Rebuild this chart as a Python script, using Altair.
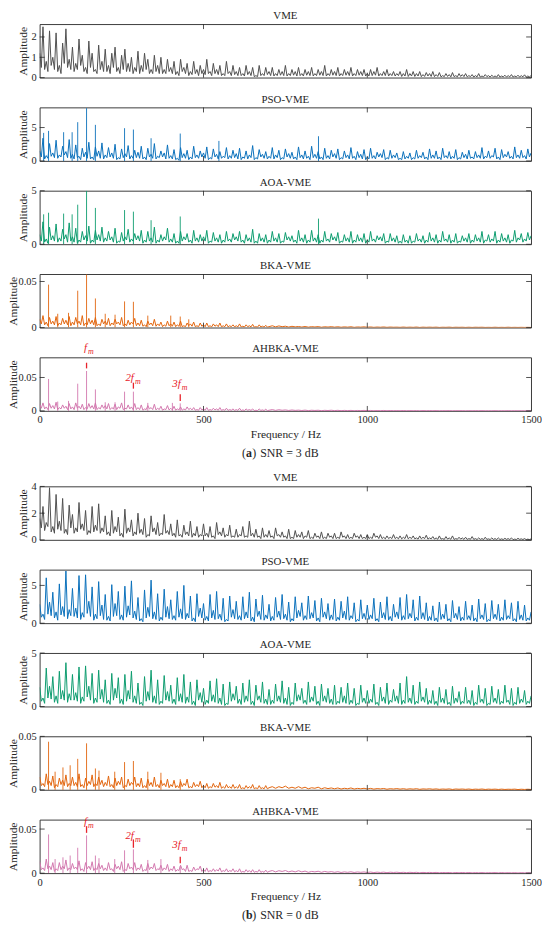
import altair as alt
import pandas as pd

# ---------------- data ----------------
FREQ = list(range(0, 1501, 10))       # local maxima, every 10 Hz
HALF = 5                              # local minima sit half way, at 5, 15, 25 ... Hz

# (a) SNR = 3 dB --------------------------------------------------------
A_VME = [
    1.2, 2.5, 0.8, 2.3, 1.0, 2.2, 0.6, 1.7, 2.4, 0.9,
    1.5, 0.7, 1.9, 1.1, 0.5, 1.8, 1.2, 0.4, 1.6, 0.8,
    1.4, 0.6, 1.2, 1.5, 0.5, 1.1, 1.4, 0.7, 1.0, 0.5,
    1.3, 0.6, 1.2, 0.9, 0.4, 1.1, 0.6, 1.0, 0.4, 0.9,
    0.5, 0.8, 0.3, 0.9, 0.5, 0.7, 0.3, 0.8, 0.4, 0.6,
    0.4, 0.9, 0.3, 0.7, 0.4, 0.6, 0.2, 0.8, 0.3, 0.6,
    0.3, 0.5, 0.2, 0.6, 0.3, 0.5, 0.1, 0.6, 0.2, 0.5,
    0.3, 0.5, 0.2, 0.4, 0.3, 0.6, 0.2, 0.4, 0.3, 0.5,
    0.2, 0.4, 0.3, 0.5, 0.2, 0.4, 0.3, 0.6, 0.2, 0.4,
    0.3, 0.5, 0.2, 0.4, 0.3, 0.5, 0.2, 0.4, 0.3, 0.4,
    0.2, 0.4, 0.3, 0.5, 0.2, 0.3, 0.4, 0.2, 0.3, 0.2,
    0.3, 0.2, 0.4, 0.2, 0.3, 0.2, 0.3, 0.15, 0.25, 0.2,
    0.3, 0.15, 0.25, 0.1, 0.2, 0.15, 0.25, 0.1, 0.2, 0.15,
    0.2, 0.1, 0.15, 0.1, 0.2, 0.08, 0.15, 0.1, 0.12, 0.08,
    0.15, 0.08, 0.12, 0.1, 0.15, 0.08, 0.12, 0.1, 0.14, 0.08,
    0.1]
A_VME_LOW = [
    0.5, 0.4, 0.3, 0.6, 0.4, 0.3, 0.2, 0.7, 0.5, 0.4,
    0.3, 0.4, 0.6, 0.3, 0.2, 0.5, 0.3, 0.2, 0.4, 0.3,
    0.3, 0.2, 0.5, 0.3, 0.2, 0.4, 0.3, 0.3, 0.2, 0.3,
    0.2, 0.3, 0.4, 0.2, 0.2, 0.3, 0.2, 0.2, 0.2, 0.3,
    0.2, 0.15, 0.1, 0.3, 0.2, 0.1, 0.15, 0.2, 0.1, 0.2,
    0.15, 0.2, 0.1, 0.2, 0.15, 0.1, 0.1, 0.2, 0.1, 0.15,
    0.1, 0.1, 0.08, 0.15, 0.1, 0.05, 0.05, 0.1, 0.1, 0.15,
    0.1, 0.08, 0.1, 0.12, 0.1, 0.08, 0.1, 0.12, 0.08, 0.1,
    0.08, 0.12, 0.1, 0.08, 0.1, 0.12, 0.1, 0.08, 0.1, 0.12,
    0.1, 0.08, 0.1, 0.12, 0.1, 0.08, 0.1, 0.12, 0.1, 0.08,
    0.08, 0.1, 0.12, 0.08, 0.1, 0.1, 0.08, 0.1, 0.08, 0.1,
    0.06, 0.08, 0.06, 0.08, 0.06, 0.08, 0.05, 0.06, 0.08, 0.06,
    0.05, 0.06, 0.04, 0.05, 0.06, 0.04, 0.05, 0.04, 0.06, 0.05,
    0.04, 0.05, 0.03, 0.04, 0.03, 0.04, 0.05, 0.03, 0.04, 0.03,
    0.03, 0.04, 0.03, 0.04, 0.03, 0.04, 0.03, 0.04, 0.03, 0.04]

A_PSO = [
    1.5, 3.4, 0.8, 2.6, 1.2, 3.1, 0.9, 2.2, 1.4, 3.2,
    1.0, 2.4, 0.7, 1.9, 1.3, 2.8, 0.6, 2.1, 1.5, 2.7,
    0.9, 2.0, 1.2, 2.5, 0.5, 1.8, 1.1, 2.3, 0.8, 1.6,
    1.3, 2.2, 0.6, 1.9, 1.0, 2.6, 0.7, 1.5, 1.2, 2.4,
    0.8, 1.7, 0.4, 2.0, 1.1, 1.6, 0.6, 2.2, 0.9, 1.5,
    1.2, 2.1, 0.5, 1.8, 1.0, 1.4, 0.7, 2.0, 0.8, 1.6,
    1.1, 1.9, 0.6, 1.5, 0.9, 2.3, 0.5, 1.7, 1.0, 1.4,
    0.7, 2.0, 0.9, 1.6, 0.5, 1.8, 1.1, 1.3, 0.6, 2.1,
    0.9, 1.5, 0.7, 2.2, 1.0, 1.4, 0.6, 1.9, 0.8, 1.6,
    1.1, 1.8, 0.5, 1.5, 0.9, 2.0, 0.7, 1.4, 1.0, 1.7,
    0.6, 1.9, 0.8, 1.3, 1.1, 1.7, 0.5, 1.6, 0.9, 1.2,
    0.4, 1.4, 0.7, 1.2, 0.5, 1.6, 0.8, 1.3, 0.6, 1.8,
    0.9, 1.5, 0.6, 1.9, 0.8, 1.4, 0.7, 1.7, 0.5, 1.3,
    1.0, 1.6, 0.6, 1.4, 0.9, 2.0, 0.7, 1.5, 0.8, 1.9,
    0.6, 1.7, 1.0, 1.4, 0.7, 2.1, 0.9, 1.6, 0.8, 1.8,
    1.2]
A_PSO_LOW = [
    0.6, 0.3, 0.4, 0.7, 0.5, 0.4, 0.6, 0.9, 0.5, 0.4,
    0.3, 0.5, 0.2, 0.6, 0.4, 0.3, 0.2, 0.7, 0.4, 0.3,
    0.5, 0.6, 0.4, 0.2, 0.3, 0.5, 0.6, 0.3, 0.4, 0.5,
    0.4, 0.3, 0.2, 0.6, 0.4, 0.3, 0.5, 0.6, 0.3, 0.4,
    0.3, 0.2, 0.1, 0.5, 0.4, 0.2, 0.3, 0.5, 0.4, 0.6,
    0.4, 0.2, 0.3, 0.6, 0.3, 0.4, 0.5, 0.3, 0.4, 0.5,
    0.3, 0.2, 0.4, 0.3, 0.5, 0.2, 0.3, 0.6, 0.4, 0.3,
    0.4, 0.3, 0.5, 0.2, 0.3, 0.6, 0.4, 0.3, 0.2, 0.5,
    0.3, 0.4, 0.2, 0.5, 0.4, 0.3, 0.2, 0.4, 0.3, 0.6,
    0.4, 0.2, 0.3, 0.5, 0.3, 0.4, 0.2, 0.5, 0.3, 0.2,
    0.3, 0.4, 0.3, 0.6, 0.5, 0.2, 0.3, 0.4, 0.5, 0.2,
    0.2, 0.3, 0.4, 0.2, 0.3, 0.4, 0.5, 0.3, 0.2, 0.4,
    0.4, 0.3, 0.2, 0.5, 0.4, 0.3, 0.4, 0.2, 0.3, 0.5,
    0.3, 0.4, 0.3, 0.5, 0.4, 0.3, 0.5, 0.4, 0.6, 0.3,
    0.2, 0.5, 0.6, 0.4, 0.3, 0.5, 0.4, 0.5, 0.3, 0.6]
A_PSO_SPK_F = [12, 27, 73, 99, 116, 143, 170, 259, 286, 340, 429, 547, 851]
A_PSO_SPK_A = [4.2, 4.5, 4.3, 4.3, 5.8, 7.9, 5.4, 4.9, 4.7, 3.4, 4.1, 3.0, 3.7]

A_AOA = [
    0.9, 2.1, 0.5, 1.6, 0.8, 1.9, 0.6, 1.4, 0.9, 2.0,
    0.7, 1.5, 0.4, 1.2, 0.8, 1.7, 0.4, 1.3, 0.9, 1.6,
    0.6, 1.2, 0.7, 1.5, 0.3, 1.1, 0.7, 1.4, 0.5, 1.0,
    0.8, 1.3, 0.4, 1.2, 0.6, 1.6, 0.4, 0.9, 0.7, 1.5,
    0.5, 1.0, 0.3, 1.2, 0.7, 1.0, 0.4, 1.3, 0.6, 0.9,
    0.7, 1.3, 0.3, 1.1, 0.6, 0.9, 0.4, 1.2, 0.5, 1.0,
    0.7, 1.2, 0.4, 0.9, 0.6, 1.4, 0.3, 1.0, 0.6, 0.9,
    0.4, 1.2, 0.6, 1.0, 0.3, 1.1, 0.7, 0.8, 0.4, 1.3,
    0.6, 0.9, 0.4, 1.3, 0.6, 0.9, 0.4, 1.2, 0.5, 1.0,
    0.7, 1.1, 0.3, 0.9, 0.6, 1.2, 0.4, 0.9, 0.6, 1.0,
    0.4, 1.2, 0.5, 0.8, 0.7, 1.0, 0.3, 1.0, 0.6, 0.8,
    0.3, 0.9, 0.4, 0.8, 0.3, 1.0, 0.5, 0.8, 0.4, 1.1,
    0.6, 0.9, 0.4, 1.2, 0.5, 0.9, 0.4, 1.0, 0.3, 0.8,
    0.6, 1.0, 0.4, 0.9, 0.6, 1.2, 0.4, 0.9, 0.5, 1.2,
    0.4, 1.0, 0.6, 0.9, 0.4, 1.3, 0.6, 1.0, 0.5, 1.1,
    0.8]
A_AOA_LOW = [
    0.3, 0.2, 0.1, 0.4, 0.3, 0.2, 0.3, 0.5, 0.2, 0.3,
    0.2, 0.1, 0.2, 0.4, 0.3, 0.1, 0.2, 0.4, 0.3, 0.2,
    0.3, 0.4, 0.2, 0.1, 0.2, 0.3, 0.4, 0.2, 0.3, 0.4,
    0.3, 0.1, 0.2, 0.3, 0.2, 0.1, 0.2, 0.3, 0.4, 0.2,
    0.2, 0.1, 0.1, 0.3, 0.4, 0.2, 0.1, 0.3, 0.2, 0.3,
    0.3, 0.1, 0.2, 0.3, 0.2, 0.1, 0.2, 0.3, 0.2, 0.4,
    0.3, 0.2, 0.1, 0.3, 0.2, 0.1, 0.1, 0.3, 0.2, 0.1,
    0.2, 0.3, 0.2, 0.1, 0.2, 0.4, 0.3, 0.2, 0.1, 0.3,
    0.2, 0.1, 0.2, 0.3, 0.2, 0.1, 0.2, 0.3, 0.2, 0.4,
    0.3, 0.1, 0.2, 0.3, 0.2, 0.1, 0.2, 0.3, 0.2, 0.1,
    0.2, 0.3, 0.2, 0.4, 0.3, 0.1, 0.2, 0.3, 0.2, 0.1,
    0.1, 0.2, 0.1, 0.1, 0.2, 0.3, 0.2, 0.1, 0.2, 0.3,
    0.2, 0.1, 0.2, 0.3, 0.2, 0.1, 0.2, 0.1, 0.2, 0.3,
    0.2, 0.1, 0.2, 0.3, 0.2, 0.1, 0.3, 0.2, 0.3, 0.1,
    0.2, 0.3, 0.2, 0.1, 0.3, 0.2, 0.4, 0.2, 0.3, 0.4]
A_AOA_SPK_F = [12, 27, 73, 99, 116, 143, 170, 259, 286, 340, 429, 851]
A_AOA_SPK_A = [2.8, 2.95, 2.87, 2.8, 3.7, 5.0, 3.4, 3.2, 3.05, 2.25, 2.6, 2.4]

A_BKA = [
    .009, .013, .006, .011, .007, .012, .005, .010, .008, .012,
    .006, .011, .007, .013, .005, .010, .008, .011, .004, .009,
    .007, .010, .005, .009, .006, .011, .004, .008, .006, .010,
    .005, .008, .003, .007, .005, .009, .004, .006, .003, .007,
    .004, .006, .003, .007, .002, .005, .004, .006, .002, .005,
    .003, .005, .002, .004, .003, .005, .002, .004, .002, .003,
    .002, .004, .0015, .003, .002, .0035, .001, .003, .0015, .0025,
    .001, .002, .0008, .0018, .001, .0015, .0006, .0014, .0008, .0012,
    .0006, .0012, .0005, .001, .0007, .0011, .0004, .0009, .0006, .001,
    .0005, .0009, .0004, .0008, .0005, .0009, .0003, .0007, .0005, .0008,
    .0004, .0007, .0003, .0006, .0004, .0007, .0003, .0006, .0004, .0005,
    .0003, .0006, .0003, .0005, .0003, .0006, .0002, .0005, .0003, .0005,
    .0003, .0005, .0002, .0004, .0003, .0005, .0002, .0004, .0003, .0004,
    .0002, .0004, .0002, .0004, .0003, .0004, .0002, .0003, .0002, .0004,
    .0002, .0003, .0002, .0004, .0002, .0003, .0002, .0003, .0002, .0003,
    .0002]
A_BKA_LOW = [
    .004, .003, .002, .004, .003, .002, .003, .004, .003, .002,
    .003, .004, .003, .002, .003, .004, .003, .002, .002, .004,
    .003, .002, .003, .004, .003, .002, .002, .003, .004, .002,
    .002, .0015, .001, .003, .002, .0015, .002, .001, .0015, .002,
    .0015, .001, .0015, .001, .001, .002, .0015, .001, .001, .0015,
    .001, .001, .0008, .0015, .001, .0008, .001, .0008, .001, .0008,
    .0008, .0007, .0006, .001, .0008, .0005, .0005, .0007, .0006, .0005]
A_BKA_SPK_F = [27, 55, 88, 116, 143, 170, 200, 230, 259, 286, 330, 400, 429, 455]
A_BKA_SPK_A = [.0466, .015, .016, .040, .0575, .0316, .015, .014, .0284, .028, .013, .013, .012, .009]

A_AHB = [
    .010, .012, .006, .011, .008, .013, .005, .009, .007, .011,
    .006, .012, .007, .010, .005, .011, .008, .012, .005, .009,
    .008, .011, .005, .010, .006, .012, .004, .009, .006, .011,
    .005, .009, .003, .008, .005, .010, .004, .007, .003, .008,
    .004, .007, .003, .006, .003, .006, .004, .005, .002, .005,
    .003, .005, .002, .004, .003, .005, .002, .004, .002, .003,
    .002, .004, .0015, .003, .002, .003, .001, .003, .0015, .0025,
    .001, .002, .0008, .0018, .001, .0015, .0007, .0014, .0008, .0012,
    .0006, .0012, .0005, .001, .0007, .001, .0004, .0009, .0006, .001,
    .0005, .0009, .0004, .0008, .0005, .0008, .0003, .0007, .0005, .0008,
    .0004, .0007, .0003, .0006, .0004, .0007, .0003, .0006, .0004, .0005,
    .0003, .0006, .0003, .0005, .0003, .0005, .0002, .0005, .0003, .0005,
    .0003, .0005, .0002, .0004, .0003, .0005, .0002, .0004, .0003, .0004,
    .0002, .0004, .0002, .0004, .0003, .0004, .0002, .0003, .0002, .0004,
    .0002, .0003, .0002, .0004, .0002, .0003, .0002, .0003, .0002, .0003,
    .0002]
A_AHB_LOW = [
    .004, .003, .002, .004, .003, .002, .003, .004, .002, .003,
    .002, .004, .003, .002, .003, .004, .003, .002, .003, .004,
    .003, .002, .003, .002, .004, .002, .003, .003, .002, .002,
    .002, .001, .002, .003, .002, .0015, .002, .001, .002, .0015,
    .0015, .001, .0015, .001, .0015, .002, .0015, .001, .001, .0015,
    .001, .0008, .001, .0015, .001, .0008, .001, .0008, .001, .0008,
    .0008, .0006, .0007, .001, .0008, .0005, .0005, .0008, .0006, .0005]
A_AHB_SPK_F = [27, 55, 88, 116, 143, 170, 200, 230, 259, 286, 330, 405, 429]
A_AHB_SPK_A = [.0478, .014, .015, .0407, .0597, .0322, .013, .013, .0288, .0288, .012, .012, .0113]

# (b) SNR = 0 dB --------------------------------------------------------
B_VME = [
    1.6, 2.5, 1.3, 3.9, 1.0, 3.4, 1.4, 3.1, 0.8, 2.6,
    1.9, 0.9, 2.8, 1.2, 2.2, 0.7, 2.5, 1.1, 2.7, 0.9,
    1.8, 0.6, 2.2, 1.0, 1.7, 0.5, 2.3, 0.9, 1.5, 0.6,
    2.0, 0.8, 1.6, 0.4, 1.8, 0.9, 1.3, 0.5, 1.9, 0.7,
    1.2, 0.5, 1.5, 0.4, 1.1, 0.6, 1.4, 0.5, 1.0, 0.4,
    1.2, 0.5, 1.0, 0.3, 1.3, 0.6, 0.9, 0.4, 1.1, 0.3,
    0.8, 0.4, 1.0, 0.3, 1.4, 0.5, 0.8, 0.3, 0.9, 0.4,
    0.7, 0.3, 0.9, 0.4, 0.6, 0.3, 0.8, 0.2, 0.7, 0.4,
    0.6, 0.3, 0.7, 0.2, 0.5, 0.3, 0.6, 0.2, 0.5, 0.3,
    0.5, 0.2, 0.6, 0.3, 0.4, 0.2, 0.5, 0.3, 0.4, 0.2,
    0.4, 0.2, 0.5, 0.3, 0.4, 0.2, 0.3, 0.2, 0.4, 0.2,
    0.3, 0.2, 0.4, 0.2, 0.3, 0.15, 0.3, 0.2, 0.35, 0.15,
    0.25, 0.15, 0.3, 0.1, 0.25, 0.15, 0.3, 0.1, 0.2, 0.15,
    0.2, 0.1, 0.25, 0.1, 0.15, 0.1, 0.2, 0.08, 0.15, 0.1,
    0.15, 0.08, 0.12, 0.1, 0.15, 0.06, 0.12, 0.08, 0.1, 0.06,
    0.08]
B_VME_LOW = [
    0.9, 0.7, 1.0, 0.6, 0.5, 0.8, 0.7, 0.5, 0.4, 0.9,
    0.5, 0.6, 0.8, 0.7, 0.4, 0.5, 0.6, 0.7, 0.5, 0.6,
    0.4, 0.3, 0.5, 0.6, 0.3, 0.2, 0.5, 0.6, 0.3, 0.4,
    0.5, 0.4, 0.2, 0.3, 0.6, 0.4, 0.3, 0.4, 0.5, 0.4,
    0.3, 0.2, 0.3, 0.2, 0.4, 0.3, 0.2, 0.3, 0.2, 0.3,
    0.3, 0.2, 0.2, 0.1, 0.4, 0.3, 0.2, 0.3, 0.2, 0.2,
    0.2, 0.3, 0.2, 0.2, 0.3, 0.2, 0.2, 0.1, 0.2, 0.2,
    0.2, 0.1, 0.3, 0.2, 0.2, 0.1, 0.1, 0.1, 0.2, 0.2,
    0.1, 0.2, 0.1, 0.1, 0.2, 0.1, 0.1, 0.1, 0.2, 0.1,
    0.1, 0.1, 0.2, 0.1, 0.1, 0.1, 0.2, 0.1, 0.1, 0.1,
    0.1, 0.1, 0.2, 0.1, 0.1, 0.08, 0.1, 0.1, 0.1, 0.08,
    0.08, 0.1, 0.08, 0.1, 0.08, 0.06, 0.08, 0.1, 0.06, 0.08,
    0.06, 0.05, 0.06, 0.04, 0.06, 0.05, 0.04, 0.05, 0.06, 0.04,
    0.04, 0.05, 0.04, 0.03, 0.04, 0.03, 0.04, 0.03, 0.04, 0.03,
    0.03, 0.03, 0.04, 0.03, 0.02, 0.03, 0.04, 0.03, 0.02, 0.02]

B_PSO = [
    2.5, 1.2, 6.0, 2.8, 4.1, 1.5, 5.2, 2.2, 6.9, 1.8,
    4.6, 2.0, 6.3, 1.4, 6.4, 2.9, 4.8, 1.2, 5.5, 2.4,
    3.8, 0.9, 5.1, 2.6, 4.2, 1.1, 4.9, 2.3, 5.6, 1.6,
    3.4, 0.6, 4.4, 2.1, 5.7, 1.5, 3.9, 0.8, 4.5, 2.2,
    3.1, 1.0, 4.2, 1.9, 5.0, 1.3, 3.6, 0.7, 3.9, 2.0,
    2.6, 0.9, 3.8, 1.7, 4.2, 1.2, 3.3, 0.5, 3.6, 1.8,
    2.9, 1.0, 3.5, 1.5, 4.1, 0.8, 3.2, 1.6, 3.7, 1.1,
    2.5, 0.9, 3.4, 1.6, 3.8, 1.2, 2.8, 0.6, 3.5, 1.7,
    2.7, 1.0, 3.6, 1.4, 3.0, 0.7, 3.3, 1.5, 2.6, 1.1,
    3.2, 0.8, 2.9, 1.6, 3.5, 1.0, 2.7, 0.5, 3.1, 1.3,
    2.4, 1.1, 3.3, 0.6, 2.8, 1.4, 3.5, 0.9, 2.5, 1.5,
    3.4, 1.0, 3.8, 1.3, 3.1, 0.8, 3.6, 1.4, 2.7, 0.9,
    2.3, 0.7, 2.8, 1.2, 2.5, 0.6, 3.0, 1.3, 2.2, 0.8,
    2.9, 1.0, 2.4, 0.7, 3.2, 1.1, 2.6, 0.5, 3.0, 1.2,
    2.5, 0.8, 3.1, 1.0, 2.7, 0.6, 2.9, 1.1, 2.4, 0.7,
    1.5]
B_PSO_LOW = [
    0.8, 0.5, 1.2, 1.0, 0.7, 0.4, 1.1, 0.9, 0.6, 1.0,
    0.9, 0.7, 0.5, 0.8, 1.3, 0.9, 0.4, 0.6, 1.0, 0.5,
    0.4, 0.3, 0.9, 1.0, 0.5, 0.4, 0.8, 1.1, 0.7, 0.5,
    0.3, 0.2, 0.7, 0.9, 0.6, 0.5, 0.3, 0.4, 0.8, 0.6,
    0.5, 0.4, 0.8, 0.6, 0.5, 0.7, 0.3, 0.2, 0.9, 0.7,
    0.4, 0.3, 0.7, 0.5, 0.6, 0.4, 0.2, 0.3, 0.8, 0.6,
    0.5, 0.4, 0.6, 0.7, 0.3, 0.2, 0.9, 0.5, 0.4, 0.6,
    0.3, 0.4, 0.8, 0.5, 0.6, 0.4, 0.2, 0.3, 0.7, 0.9,
    0.4, 0.5, 0.6, 0.7, 0.3, 0.2, 0.8, 0.6, 0.4, 0.5,
    0.3, 0.4, 0.7, 0.5, 0.4, 0.6, 0.2, 0.3, 0.6, 0.5,
    0.5, 0.6, 0.3, 0.2, 0.7, 0.5, 0.4, 0.3, 0.8, 0.6,
    0.4, 0.5, 0.6, 0.7, 0.3, 0.4, 0.6, 0.5, 0.3, 0.4,
    0.3, 0.2, 0.5, 0.6, 0.3, 0.2, 0.7, 0.5, 0.3, 0.4,
    0.5, 0.4, 0.3, 0.2, 0.6, 0.5, 0.2, 0.3, 0.6, 0.5,
    0.3, 0.4, 0.5, 0.6, 0.3, 0.2, 0.5, 0.4, 0.3, 0.4]

B_AOA = [
    1.8, 0.8, 3.6, 1.9, 2.8, 1.0, 3.3, 1.5, 4.1, 1.2,
    3.0, 1.3, 3.7, 0.9, 3.8, 1.9, 3.1, 0.8, 3.4, 1.6,
    2.5, 0.6, 3.1, 1.7, 2.7, 0.7, 3.0, 1.5, 3.3, 1.0,
    2.2, 0.4, 2.8, 1.4, 3.4, 1.0, 2.5, 0.5, 2.9, 1.4,
    2.0, 0.7, 2.7, 1.2, 3.0, 0.9, 2.3, 0.5, 2.5, 1.3,
    1.7, 0.6, 2.4, 1.1, 2.6, 0.8, 2.1, 0.3, 2.3, 1.2,
    1.9, 0.7, 2.2, 1.0, 2.5, 0.5, 2.0, 1.0, 2.3, 0.7,
    1.6, 0.6, 2.1, 1.0, 2.4, 0.8, 1.8, 0.4, 2.2, 1.1,
    1.7, 0.6, 2.3, 0.9, 1.9, 0.5, 2.1, 1.0, 1.7, 0.7,
    2.0, 0.5, 1.8, 1.0, 2.2, 0.6, 1.7, 0.3, 2.0, 0.8,
    1.5, 0.7, 2.1, 0.4, 1.8, 0.9, 2.2, 0.6, 1.6, 1.0,
    2.2, 0.6, 2.8, 0.8, 2.0, 0.5, 2.3, 0.9, 1.7, 0.6,
    1.5, 0.5, 1.8, 0.8, 1.6, 0.4, 1.9, 0.8, 1.4, 0.5,
    1.8, 0.6, 1.5, 0.4, 2.0, 0.7, 1.7, 0.3, 1.9, 0.8,
    1.6, 0.5, 2.0, 0.6, 1.7, 0.4, 1.8, 0.7, 1.5, 0.5,
    1.0]
B_AOA_LOW = [
    0.5, 0.3, 0.8, 0.7, 0.4, 0.3, 0.7, 0.6, 0.4, 0.6,
    0.6, 0.5, 0.3, 0.5, 0.9, 0.6, 0.3, 0.4, 0.7, 0.4,
    0.3, 0.2, 0.6, 0.8, 0.3, 0.2, 0.5, 0.7, 0.4, 0.3,
    0.2, 0.1, 0.5, 0.6, 0.4, 0.3, 0.2, 0.3, 0.6, 0.5,
    0.3, 0.2, 0.5, 0.4, 0.3, 0.4, 0.2, 0.1, 0.6, 0.4,
    0.2, 0.3, 0.5, 0.4, 0.3, 0.2, 0.1, 0.2, 0.5, 0.6,
    0.3, 0.2, 0.4, 0.5, 0.2, 0.1, 0.6, 0.4, 0.3, 0.2,
    0.2, 0.3, 0.5, 0.4, 0.3, 0.2, 0.1, 0.2, 0.5, 0.6,
    0.3, 0.2, 0.4, 0.5, 0.2, 0.1, 0.5, 0.4, 0.3, 0.2,
    0.2, 0.3, 0.4, 0.3, 0.2, 0.3, 0.1, 0.2, 0.4, 0.3,
    0.3, 0.4, 0.2, 0.1, 0.5, 0.3, 0.2, 0.4, 0.5, 0.3,
    0.2, 0.3, 0.4, 0.3, 0.2, 0.3, 0.5, 0.4, 0.2, 0.3,
    0.2, 0.1, 0.4, 0.3, 0.2, 0.1, 0.3, 0.4, 0.2, 0.3,
    0.3, 0.2, 0.1, 0.2, 0.4, 0.3, 0.1, 0.2, 0.4, 0.3,
    0.2, 0.3, 0.4, 0.2, 0.1, 0.2, 0.3, 0.4, 0.2, 0.3]

B_BKA = [
    .012, .006, .015, .008, .013, .005, .011, .009, .014, .006,
    .012, .007, .015, .005, .011, .008, .014, .006, .012, .009,
    .007, .013, .005, .011, .008, .012, .004, .010, .007, .012,
    .006, .011, .004, .010, .007, .012, .005, .009, .006, .010,
    .005, .009, .004, .008, .006, .010, .003, .007, .005, .008,
    .004, .006, .003, .006, .004, .007, .003, .005, .003, .005,
    .003, .005, .002, .004, .003, .005, .002, .004, .002, .004,
    .002, .003, .0015, .003, .002, .0035, .0015, .0025, .0015, .003,
    .0015, .0025, .001, .002, .0015, .0025, .001, .002, .0012, .0018,
    .001, .0018, .0008, .0015, .001, .0018, .0008, .0014, .001, .0015,
    .0008, .0014, .0007, .0012, .0009, .0013, .0006, .0011, .0008, .0012,
    .0007, .0011, .0006, .001, .0007, .0011, .0005, .0009, .0007, .001,
    .0006, .0009, .0005, .0008, .0006, .0009, .0004, .0008, .0006, .0008,
    .0005, .0008, .0004, .0007, .0005, .0008, .0004, .0007, .0005, .0007,
    .0004, .0007, .0004, .0006, .0005, .0007, .0003, .0006, .0004, .0006,
    .0004]
B_BKA_LOW = [
    .004, .003, .005, .004, .002, .003, .005, .004, .003, .004,
    .004, .003, .003, .002, .004, .005, .003, .004, .005, .003,
    .004, .003, .002, .004, .005, .002, .003, .004, .005, .003,
    .003, .002, .002, .004, .003, .003, .002, .004, .003, .002,
    .003, .002, .002, .003, .004, .002, .002, .003, .003, .002,
    .002, .0015, .002, .0025, .002, .0015, .0015, .002, .0015, .0015,
    .0015, .001, .001, .0015, .0015, .001, .001, .0012, .001, .001]
B_BKA_SPK_F = [27, 47, 71, 93, 116, 143, 170, 181, 229, 259, 286, 330, 370, 429]
B_BKA_SPK_A = [.045, .017, .021, .023, .029, .0435, .020, .018, .017, .026, .027, .017, .016, .010]

B_AHB = [
    .013, .006, .016, .008, .012, .005, .012, .008, .015, .006,
    .011, .007, .014, .005, .012, .008, .013, .006, .011, .009,
    .006, .012, .005, .010, .008, .013, .004, .011, .007, .012,
    .006, .010, .004, .011, .007, .011, .005, .009, .006, .010,
    .005, .008, .004, .009, .005, .009, .003, .007, .005, .008,
    .004, .006, .003, .005, .004, .006, .003, .005, .003, .005,
    .003, .005, .002, .004, .003, .004, .002, .004, .002, .0035,
    .002, .003, .0015, .0028, .002, .003, .0015, .0025, .0015, .0028,
    .0015, .0024, .001, .002, .0015, .0022, .001, .002, .0012, .0018,
    .001, .0017, .0008, .0015, .001, .0016, .0008, .0014, .001, .0014,
    .0008, .0013, .0007, .0012, .0008, .0012, .0006, .0011, .0008, .0011,
    .0007, .001, .0006, .001, .0007, .001, .0005, .0009, .0006, .0009,
    .0006, .0009, .0005, .0008, .0006, .0008, .0004, .0008, .0005, .0008,
    .0005, .0008, .0004, .0007, .0005, .0007, .0004, .0006, .0005, .0007,
    .0004, .0007, .0004, .0006, .0004, .0006, .0003, .0006, .0004, .0005,
    .0004]
B_AHB_LOW = [
    .004, .003, .005, .004, .002, .003, .004, .005, .003, .004,
    .005, .004, .003, .002, .005, .004, .003, .004, .005, .003,
    .003, .004, .002, .005, .004, .002, .003, .005, .004, .003,
    .004, .002, .003, .004, .005, .003, .004, .003, .004, .002,
    .003, .002, .003, .004, .002, .002, .002, .003, .004, .002,
    .002, .0015, .002, .002, .0025, .0015, .002, .0015, .002, .0015,
    .0015, .001, .0012, .0015, .001, .001, .0012, .001, .001, .001]
B_AHB_SPK_F = [27, 47, 71, 93, 116, 143, 170, 181, 229, 259, 286, 330, 370, 429]
B_AHB_SPK_A = [.0439, .016, .018, .020, .0288, .0428, .020, .017, .016, .0259, .027, .015, .016, .008]

# fault-frequency markers (f_m, 2f_m, 3f_m)
ANN_F = [143, 286, 429]
ANN_MAIN = ["f", "2f", "3f"]
ANN_SUB = ["m", "m", "m"]
A_ANN_TY = [0.0945, 0.0492, 0.0397]
A_ANN_LO = [0.0636, 0.0333, 0.0149]
A_ANN_HI = [0.0721, 0.0422, 0.0248]
B_ANN_TY = [0.0578, 0.0417, 0.0321]
B_ANN_LO = [0.0457, 0.0288, 0.0113]
B_ANN_HI = [0.0533, 0.0383, 0.0187]

X_TICKS = [0, 500, 1000, 1500]
X_INNER_TICKS = [500, 1000]

# ---------------- style ----------------
W, H = 496, 54
GAP = 30.1
SP_H = 15.2
CAP_Y = 12.5
FONT = "Liberation Serif"
INK = "#262626"
GRAY = "#505050"
BLUE = "#0a70bb"
GREEN = "#0c9c6e"
ORANGE = "#e2650e"
PINK = "#d277ae"
RED = "#e8232b"


def series(peaks, lows):
    f, a = [], []
    for i, v in enumerate(peaks):
        f.append(FREQ[i])
        a.append(v)
        if i < len(lows):
            f.append(FREQ[i] + HALF)
            a.append(lows[i])
    return pd.DataFrame({"f": f, "a": a})


def panel(title, peaks, lows, color, ymax, yticks, wide, spikes=None, bottom=False, ann=None):
    xs = alt.Scale(domain=[0, 1500], nice=False, zero=False)
    ys = alt.Scale(domain=[0, ymax], nice=False, zero=False)
    if bottom:
        xaxis = alt.Axis(values=X_TICKS, format="d", ticks=False, tickSize=0, domain=False,
                         grid=False, labelFlush=False, labelOverlap=False, labelPadding=4,
                         labelFontSize=10.5, labelColor=INK, labelFont=FONT,
                         title="Frequency / Hz", titleFont=FONT, titleFontSize=11.5,
                         titleFontWeight="normal", titleColor=INK, titleBaseline="middle",
                         titleY=23.7)
    else:
        xaxis = None
    yaxis = alt.Axis(values=yticks, format="~g", ticks=False, tickSize=0, domain=False,
                     grid=False, labelPadding=3.5, labelFontSize=10.5, labelColor=INK,
                     labelFont=FONT, labelOverlap=False, title="Amplitude", titleFont=FONT,
                     titleFontSize=11.5, titleFontWeight="normal", titleColor=INK,
                     titleAngle=270, titleAlign="center", titleBaseline="middle",
                     titleX=-26 if wide else -16.5, titleY=H / 2)

    def X(field):
        return alt.X(field, scale=xs, axis=xaxis)

    def Y(field):
        return alt.Y(field, scale=ys, axis=yaxis)

    layers = [
        alt.Chart(series(peaks, lows)).mark_line(color=color, strokeWidth=1.0, clip=True)
        .encode(x=X("f:Q"), y=Y("a:Q"))
    ]
    if spikes is not None:
        sdf = pd.DataFrame({"f": spikes[0], "a": spikes[1]})
        layers.append(
            alt.Chart(sdf).mark_rule(color=color, strokeWidth=0.9, clip=True).encode(
                x=X("f:Q"), y=Y("a:Q"), y2=alt.datum(0)
            )
        )
    ytk = pd.DataFrame({"a": yticks})
    xtk = pd.DataFrame({"f": X_INNER_TICKS})
    for x0, x1 in [(0, 5), (W - 5, W)]:
        layers.append(
            alt.Chart(ytk).mark_rule(color=INK, strokeWidth=0.8).encode(
                y=Y("a:Q"), x=alt.value(x0), x2=alt.value(x1)
            )
        )
    for y0, y1 in [(0, 5), (H - 5, H)]:
        layers.append(
            alt.Chart(xtk).mark_rule(color=INK, strokeWidth=0.8).encode(
                x=X("f:Q"), y=alt.value(y0), y2=alt.value(y1)
            )
        )
    layers.append(
        alt.Chart(pd.DataFrame({"t": [title]})).mark_text(
            font=FONT, fontSize=11, color=INK, baseline="alphabetic", align="center"
        ).encode(x=alt.value(W / 2), y=alt.value(-5), text="t:N")
    )
    if ann is not None:
        ty, lo, hi = ann
        adf = pd.DataFrame({"f": ANN_F, "main": ANN_MAIN, "sub": ANN_SUB,
                            "ty": ty, "lo": lo, "hi": hi})
        layers.append(
            alt.Chart(adf).mark_rule(color=RED, strokeWidth=1.3).encode(
                x=X("f:Q"), y=Y("lo:Q"), y2="hi:Q"
            )
        )
        layers.append(
            alt.Chart(adf).mark_text(font=FONT, fontSize=11, fontStyle="italic", color=RED,
                                     align="right", baseline="middle", dx=0.5).encode(
                x=X("f:Q"), y=Y("ty:Q"), text="main:N"
            )
        )
        layers.append(
            alt.Chart(adf).mark_text(font=FONT, fontSize=8, fontStyle="italic", color=RED,
                                     align="left", baseline="middle", dx=1.5, dy=4).encode(
                x=X("f:Q"), y=Y("ty:Q"), text="sub:N"
            )
        )
    return alt.layer(*layers).properties(width=W, height=H)


def caption(letter, rest):
    d = pd.DataFrame({"open": ["("], "letter": [letter], "close": [")"], "rest": [rest]})
    base = alt.Chart(d)
    y = alt.value(CAP_Y)
    parts = [
        base.mark_text(font=FONT, fontSize=12, color=INK, align="right", baseline="middle")
        .encode(x=alt.value(208.2), y=y, text="open:N"),
        base.mark_text(font=FONT, fontSize=12, fontWeight="bold", color=INK, align="left",
                       baseline="middle").encode(x=alt.value(208.2), y=y, text="letter:N"),
        base.mark_text(font=FONT, fontSize=12, color=INK, align="left", baseline="middle")
        .encode(x=alt.value(214.5), y=y, text="close:N"),
        base.mark_text(font=FONT, fontSize=12, color=INK, align="left", baseline="middle")
        .encode(x=alt.value(222.5), y=y, text="rest:N"),
    ]
    return alt.layer(*parts).properties(
        width=W, height=SP_H, view=alt.ViewBackground(stroke="transparent")
    )


charts = [
    panel("VME", A_VME, A_VME_LOW, GRAY, 2.63, [0, 1, 2], False),
    panel("PSO-VME", A_PSO, A_PSO_LOW, BLUE, 8, [0, 5], False, (A_PSO_SPK_F, A_PSO_SPK_A)),
    panel("AOA-VME", A_AOA, A_AOA_LOW, GREEN, 5, [0, 5], False, (A_AOA_SPK_F, A_AOA_SPK_A)),
    panel("BKA-VME", A_BKA, A_BKA_LOW, ORANGE, 0.058, [0, 0.05], True,
          (A_BKA_SPK_F, A_BKA_SPK_A)),
    panel("AHBKA-VME", A_AHB, A_AHB_LOW, PINK, 0.08, [0, 0.05], True,
          (A_AHB_SPK_F, A_AHB_SPK_A), bottom=True, ann=(A_ANN_TY, A_ANN_LO, A_ANN_HI)),
    caption("a", "SNR = 3 dB"),
    panel("VME", B_VME, B_VME_LOW, GRAY, 4, [0, 2, 4], False),
    panel("PSO-VME", B_PSO, B_PSO_LOW, BLUE, 7.07, [0, 5], False),
    panel("AOA-VME", B_AOA, B_AOA_LOW, GREEN, 5, [0, 5], False),
    panel("BKA-VME", B_BKA, B_BKA_LOW, ORANGE, 0.05, [0, 0.05], True,
          (B_BKA_SPK_F, B_BKA_SPK_A)),
    panel("AHBKA-VME", B_AHB, B_AHB_LOW, PINK, 0.0606, [0, 0.05], True,
          (B_AHB_SPK_F, B_AHB_SPK_A), bottom=True, ann=(B_ANN_TY, B_ANN_LO, B_ANN_HI)),
    caption("b", "SNR = 0 dB"),
]

chart = (
    alt.vconcat(*charts, spacing=GAP, bounds="flush")
    .properties(padding={"left": -1, "top": -3, "right": 0, "bottom": 0})
    .configure(font=FONT)
    .configure_view(stroke=INK, strokeWidth=0.9)
)

chart.save("out.html", embed_options={"renderer": "svg", "actions": False})
